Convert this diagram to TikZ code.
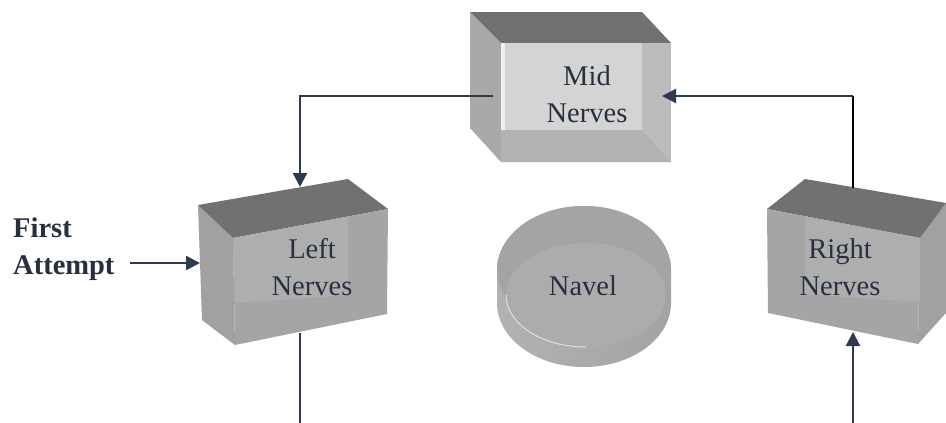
\documentclass[tikz,border=0pt]{standalone}
\usepackage{fontspec}
\setmainfont{Liberation Serif}
\usetikzlibrary{arrows.meta}
\definecolor{navy}{HTML}{2E3B4E}
\definecolor{txtc}{HTML}{27303F}
\definecolor{topc}{HTML}{717171}
\definecolor{midside}{HTML}{A9A9A9}
\definecolor{midright}{HTML}{BCBCBC}
\definecolor{midbottom}{HTML}{B2B2B2}
\definecolor{midinner}{HTML}{D4D4D4}
\definecolor{lside}{HTML}{A1A1A1}
\definecolor{lfront}{HTML}{A5A5A5}
\definecolor{linner}{HTML}{AEAEAE}
\definecolor{rimc}{HTML}{A4A4A4}
\definecolor{floorc}{HTML}{ACACAC}
\definecolor{walll}{HTML}{B2B2B2}
\definecolor{wallm}{HTML}{707070}
\definecolor{wallr}{HTML}{A3A3A3}
\begin{document}
\begin{tikzpicture}[x=1pt,y=-1pt,
  lbl/.style={text=txtc, inner sep=0pt, align=center, font=\fontsize{28.5}{37}\selectfont},
  conn/.style={draw=navy, line width=2.2pt},
  tip/.style={-{Triangle[length=14pt,width=14pt]}}]
\fill[white] (0,0) rectangle (946,423);
\useasboundingbox (0,0) rectangle (946,423);

% ---------- Mid box ----------
\fill[midside] (470,12) -- (501,43) -- (501,162) -- (470,128) -- cycle;
\fill[topc] (470,12) -- (642,12) -- (671,43) -- (501,43) -- cycle;
\fill[midright] (501,43) rectangle (671,162);
\fill[midbottom] (501,130) -- (642,130) -- (671,162) -- (501,162) -- cycle;
\fill[midinner] (501,43) rectangle (642,130);
\fill[white!88!gray] (501,43) rectangle (505,130);
\node[lbl, anchor=north] (mid) at (587,65.5) {Mid\\Nerves};

% ---------- Left box ----------
\fill[lside] (198,205) -- (233,238) -- (235,345) -- (202,320) -- cycle;
\fill[topc] (198,205) -- (348,179) -- (388,209) -- (233,238) -- cycle;
\fill[lfront] (233,238) -- (388,209) -- (387,314) -- (235,345) -- cycle;
\fill[linner] (233,238) -- (348,217) -- (348,295) -- (235,303) -- cycle;
\node[lbl, anchor=north] (left) at (312,238.5) {Left\\Nerves};

% ---------- Right box ----------
\fill[lside] (920,238) -- (946,203) -- (946,313) -- (918,344) -- cycle;
\fill[topc] (767,209) -- (805,179) -- (946,203) -- (920,238) -- cycle;
\fill[lfront] (767,209) -- (920,238) -- (918,344) -- (768,313) -- cycle;
\fill[linner] (805,217) -- (920,238) -- (920,302) -- (805,294) -- cycle;
\node[lbl, anchor=north] (right) at (840,238.5) {Right\\Nerves};

% ---------- Navel cylinder ----------
\shade[left color=walll, middle color=wallm, right color=wallr]
  (497,270) arc[start angle=180, end angle=360, x radius=87, y radius=64]
  -- (671,303) arc[start angle=0, end angle=180, x radius=87, y radius=64] -- cycle;
\fill[rimc] (584,270) ellipse [x radius=87, y radius=64];
\fill[floorc] (586,295) ellipse [x radius=80, y radius=52];
\draw[white!75!gray, line width=1pt] (506,295) arc[start angle=180, end angle=90, x radius=80, y radius=52];
\node[lbl, anchor=base] (navel) at (583,295) {Navel};

% ---------- First Attempt ----------
\node[text=txtc, inner sep=0pt, align=left, anchor=north west,
  font=\fontsize{28.5}{37}\selectfont\bfseries] (first) at (13,217.3) {First\\Attempt};

% ---------- connectors ----------
\coordinate (midIn) at (493,96);
\coordinate (leftTop) at (300,187);
\coordinate (corner) at (853,96);
\coordinate (midTip) at (662,96);
\coordinate (rightTop) at (853,188);
\coordinate (leftBot) at (300,333);
\coordinate (leftEnd) at (300,423);
\coordinate (rightBot) at (853,332);
\coordinate (rightEnd) at (853,423);
\coordinate (faStart) at (130,263);
\coordinate (faTip) at (200,263);

\draw[conn, tip] (midIn) -| (leftTop);
\draw[black, line width=1.6pt] (rightTop) -- (corner);
\draw[conn, tip] (corner) -- (midTip);
\draw[conn] (leftBot) -- (leftEnd);
\draw[conn, tip] (rightEnd) -- (rightBot);
\draw[conn, tip] (faStart) -- (faTip);
\end{tikzpicture}
\end{document}
